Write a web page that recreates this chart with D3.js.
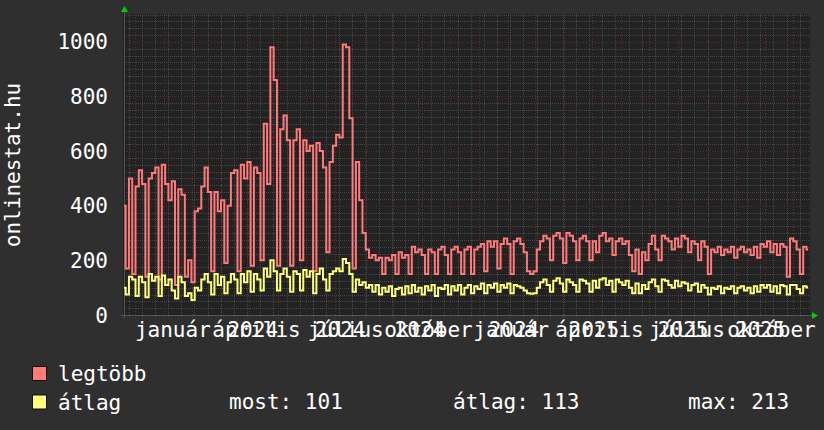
<!DOCTYPE html>
<html><head><meta charset="utf-8">
<script src="https://cdn.jsdelivr.net/npm/d3@7"></script>
<style>body{margin:0;background:#2f2f2f;}svg{display:block}</style>
</head><body>
<svg id="c" width="824" height="430"></svg>
<script>
// ---- data ----
const startDate = "2023-12-20";
const endDate = "2025-12-19";
const stepHours = 84; // samples every 3.5 days
const legtobb = [
400,170,500,150,470,530,480,140,500,520,540,130,550,480,420,490,110,460,440,140,
200,120,380,390,470,540,450,160,450,380,420,190,400,520,530,160,550,500,560,180,
540,520,200,700,480,980,860,180,680,730,640,180,640,680,200,640,600,620,160,630,
600,540,230,560,620,660,650,990,980,720,170,560,420,300,240,210,220,200,210,150,
210,200,220,150,230,210,220,150,250,230,240,220,150,240,230,150,240,250,220,150,
240,250,230,150,240,250,150,240,250,260,160,270,250,270,170,260,280,260,150,270,
280,260,230,160,150,160,240,270,290,280,200,290,300,280,190,300,290,270,200,280,
290,270,200,270,230,290,300,270,280,220,270,280,260,270,220,160,240,150,230,200,
260,290,240,200,290,280,270,240,280,250,290,280,230,270,260,200,270,250,150,240,
230,250,220,240,230,250,210,240,250,230,240,220,250,210,260,250,270,230,260,220,
260,250,140,280,270,240,150,250,240
];
const atlag = [
100,75,140,130,70,140,120,65,150,125,140,70,145,110,130,90,60,140,120,70,
80,55,100,90,130,150,120,75,150,110,140,80,120,150,130,80,150,120,160,85,
150,130,90,170,140,200,160,90,150,170,140,85,160,150,90,165,140,160,80,150,
170,130,90,150,160,170,160,205,190,150,85,130,110,120,100,110,85,110,75,100,
85,105,70,95,100,75,105,80,110,85,100,75,105,90,110,70,100,95,110,75,
105,90,110,75,100,110,80,105,95,115,80,110,100,115,85,110,100,115,80,110,
105,100,90,80,78,80,100,120,130,110,85,125,135,115,85,130,120,110,85,130,
125,115,85,125,100,130,135,110,125,85,130,120,110,125,100,80,115,80,110,95,
120,130,105,85,130,125,110,100,125,105,120,115,90,110,115,85,110,100,75,100,
95,105,80,100,95,105,80,100,105,90,100,80,105,85,110,100,110,85,105,80,
110,105,75,110,110,95,80,105,101
];
const yTicks = [0, 200, 400, 600, 800, 1000];
const monthLabels = ["január","április","július","október","január","április","július","október"];
const monthLabelDates = ["2024-02-10","2024-05-09","2024-08-12","2024-11-08","2025-02-04","2025-05-09","2025-08-10","2025-11-08"];
const yearLabels = ["2024","2024","2024","2024","2025","2025","2025"];
const yearLabelDates = ["2024-05-05","2024-08-06","2024-10-30","2025-02-07","2025-05-03","2025-08-06","2025-10-27"];
const seriesNames = ["legtöbb","átlag"];
const seriesColors = ["#ff7a7a","#ffff7c"];
const statLabels = ["most: 101","átlag: 113","max: 213"];

// ---- chart ----
const parse = d3.timeParse("%Y-%m-%d");
const svg = d3.select("#c");
const L = 124, R = 810, T = 14, B = 315;
const x = d3.scaleTime().domain([parse(startDate), parse(endDate)]).range([L, R]);
const y = d3.scaleLinear().domain([0, 1102]).range([B, T]);
const dates = legtobb.map((_, i) => d3.timeHour.offset(parse(startDate), i * stepHours));
const font = "'DejaVu Sans Mono', monospace";

svg.append("rect").attr("width", 824).attr("height", 430).attr("fill", "#2f2f2f");
svg.append("rect").attr("x", L - 1).attr("y", T).attr("width", R - L + 1).attr("height", B - T).attr("fill", "#222");

const grid = svg.append("g");
const minorCol = "#474747", majorCol = "#6b2b2b";
// minor horizontal
d3.range(0, 1101, 25).filter(v => v % 200 !== 0).forEach(v => {
  grid.append("line").attr("x1", L).attr("x2", R).attr("y1", Math.round(y(v)) + 0.5).attr("y2", Math.round(y(v)) + 0.5)
    .attr("stroke", minorCol).attr("stroke-dasharray", "1,1");
});
// minor vertical (biweekly)
const minorV = d3.timeMonday.range(x.domain()[0], x.domain()[1]).filter((d, i) => i % 2 === 0);
minorV.forEach(d => {
  const px = Math.round(x(d)) + 0.5;
  grid.append("line").attr("x1", px).attr("x2", px).attr("y1", T).attr("y2", B + 3)
    .attr("stroke", minorCol).attr("stroke-dasharray", "1,1");
});
// major horizontal
yTicks.filter(v => v > 0).forEach(v => {
  grid.append("line").attr("x1", L).attr("x2", R).attr("y1", Math.round(y(v)) + 0.5).attr("y2", Math.round(y(v)) + 0.5)
    .attr("stroke", majorCol).attr("stroke-dasharray", "1,2");
});
// major vertical (months)
d3.timeMonth.range(x.domain()[0], x.domain()[1]).forEach(d => {
  const px = Math.round(x(d)) + 0.5;
  grid.append("line").attr("x1", px).attr("x2", px).attr("y1", T).attr("y2", B + 3)
    .attr("stroke", majorCol).attr("stroke-dasharray", "1,2");
});

// axes
svg.append("line").attr("x1", L - 3).attr("x2", R + 3).attr("y1", B + 0.5).attr("y2", B + 0.5).attr("stroke", "#555");
svg.append("line").attr("x1", L + 0.5).attr("x2", L + 0.5).attr("y1", T - 4).attr("y2", B + 3).attr("stroke", "#555");
svg.append("path").attr("d", `M${L - 3},${T - 2}L${L + 4},${T - 2}L${L + 0.5},${T - 8}Z`).attr("fill", "#00d000");
svg.append("path").attr("d", `M${R + 2},${B - 3}L${R + 2},${B + 4}L${R + 8},${B + 0.5}Z`).attr("fill", "#00d000");

// series
const line = (arr) => d3.line().x((d, i) => x(dates[i])).y(d => y(d)).curve(d3.curveStep)(arr);
[legtobb, atlag].forEach((arr, k) => {
  svg.append("path").attr("d", line(arr)).attr("fill", "none").attr("stroke", seriesColors[k])
    .attr("stroke-width", 2).attr("stroke-linejoin", "miter");
});

// y labels
yTicks.forEach(v => {
  svg.append("text").attr("x", 108).attr("y", y(v)).attr("dy", "0.36em").attr("text-anchor", "end")
    .attr("fill", "#fff").style("font-family", font).style("font-size", "21px").text(v);
});
// x labels
monthLabels.forEach((t, i) => {
  svg.append("text").attr("x", x(parse(monthLabelDates[i]))).attr("y", 337).attr("text-anchor", "middle")
    .attr("fill", "#fff").style("font-family", font).style("font-size", "21px").text(t);
});
yearLabels.forEach((t, i) => {
  svg.append("text").attr("x", x(parse(yearLabelDates[i]))).attr("y", 337).attr("text-anchor", "middle")
    .attr("fill", "#fff").style("font-family", font).style("font-size", "21px").text(t);
});
// title
svg.append("text").attr("transform", "translate(19.5,165) rotate(-90)").attr("text-anchor", "middle")
  .attr("fill", "#fff").style("font-family", font).style("font-size", "21px").text("onlinestat.hu");

// legend
seriesNames.forEach((n, k) => {
  const yy = 366 + k * 28.5;
  svg.append("rect").attr("x", 32.5).attr("y", yy + 0.5).attr("width", 14).attr("height", 14)
    .attr("fill", seriesColors[k]).attr("stroke", "#111");
  svg.append("text").attr("x", 58).attr("y", yy + 15).attr("fill", "#fff")
    .style("font-family", font).style("font-size", "21px").text(n);
});
const statX = [229, 453, 688];
statLabels.forEach((t, i) => {
  svg.append("text").attr("x", statX[i]).attr("y", 409).attr("fill", "#fff")
    .style("font-family", font).style("font-size", "21px").text(t);
});
</script>
</body></html>
